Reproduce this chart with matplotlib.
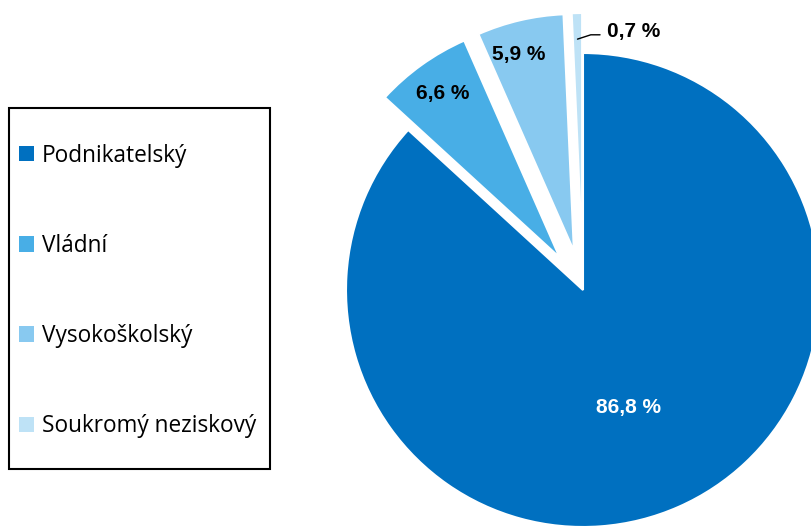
import math
import matplotlib.pyplot as plt
import matplotlib.patches as mpatches

# data
sectors = ["Podnikatelský", "Vládní", "Vysokoškolský", "Soukromý neziskový"]
shares = [86.8, 6.6, 5.9, 0.7]
labels = ["86,8 %", "6,6 %", "5,9 %", "0,7 %"]
colors = ["#0070C0", "#48AEE6", "#88C9F0", "#BEE2F6"]

W, H = 812, 526
fig = plt.figure(figsize=(W / 100, H / 100), dpi=100)
ax = fig.add_axes([0, 0, 1, 1])

radius = 237
center = (583, H - 290)
explode = [0, 40, 40, 40]

wedges, _ = ax.pie(shares, colors=colors, startangle=90, counterclock=False,
                   radius=radius, center=center, explode=explode,
                   wedgeprops=dict(edgecolor="white", linewidth=1.5))
ax.set_xlim(0, W)
ax.set_ylim(0, H)
ax.set_aspect("auto")
ax.axis("off")


def polar(w, frac, dang=0.0):
    ang = math.radians((w.theta1 + w.theta2) / 2 + dang)
    return (w.center[0] + frac * w.r * math.cos(ang),
            w.center[1] + frac * w.r * math.sin(ang))


lab_font = dict(family=["Liberation Sans"], weight="bold", size=15)
x, y = polar(wedges[0], 0.53, -2.5)
ax.text(x, y, labels[0], color="white", ha="center", va="center", fontdict=lab_font)
x, y = polar(wedges[1], 0.85)
ax.text(x, y, labels[1], color="black", ha="center", va="center", fontdict=lab_font)
x, y = polar(wedges[2], 0.86, 2.5)
ax.text(x, y, labels[2], color="black", ha="center", va="center", fontdict=lab_font)

# small slice with leader line
x0, y0 = polar(wedges[3], 0.89)
ax.annotate(labels[3], xy=(x0, y0), xytext=(607, H - 31), ha="left", va="center",
            color="black", fontfamily="Liberation Sans", fontweight="bold", fontsize=15,
            arrowprops=dict(arrowstyle="-", color="black", lw=1,
                            connectionstyle="angle,angleA=0,angleB=18,rad=0",
                            relpos=(0, 0.3), shrinkA=3, shrinkB=0))

# legend box
box = mpatches.Rectangle((9 / W, 1 - 469 / H), 261 / W, 361 / H,
                         transform=fig.transFigure, facecolor="none",
                         edgecolor="black", linewidth=1.5)
fig.add_artist(box)

handles = [mpatches.Patch(facecolor=c, edgecolor="none") for c in colors]
leg = fig.legend(handles, sectors, loc="center left",
                 bbox_to_anchor=(19 / W, 1 - 291 / H), borderaxespad=0,
                 prop=dict(family="Open Sans", size=16.3),
                 frameon=False, borderpad=0,
                 handlelength=0.68, handleheight=0.68, handletextpad=0.33,
                 labelspacing=2.93)

fig.savefig("out.png", dpi=100)
